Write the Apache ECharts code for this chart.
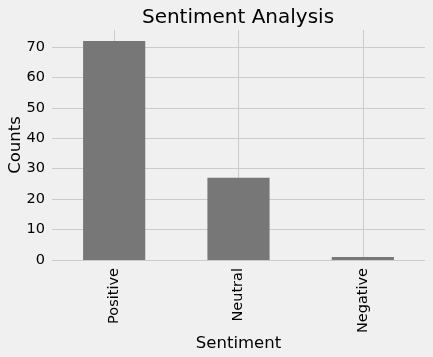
<!DOCTYPE html>
<html>
<head>
<meta charset="utf-8">
<script src="https://cdn.jsdelivr.net/npm/echarts@6/dist/echarts.min.js"></script>
<style>
html,body{margin:0;padding:0;background:#f0f0f0;}
#c{width:433px;height:357px;}
</style>
</head>
<body>
<div id="c"></div>
<script>
const categories = ['Positive', 'Neutral', 'Negative'];
const counts = [72, 27, 1];
const yMax = 75.6;
const gridSlots = ['', '', '', '', '', '', ''];

const font = 'DejaVu Sans';
const chart = echarts.init(document.getElementById('c'), null, {renderer: 'canvas'});
chart.setOption({
  backgroundColor: '#f0f0f0',
  animation: false,
  title: {
    text: 'Sentiment Analysis',
    left: 233, top: 3, textAlign: 'center',
    textStyle: {fontFamily: font, fontSize: 20, fontWeight: 'normal', color: '#000'}
  },
  grid: {left: 52, right: 8, top: 30, bottom: 97, containLabel: false, outerBoundsMode: 'none'},
  xAxis: [{
    type: 'category',
    data: categories,
    boundaryGap: true,
    axisLine: {show: false},
    axisTick: {show: false},
    splitLine: {show: false},
    axisLabel: {rotate: 90, margin: 8, fontFamily: font, fontSize: 14.5, color: '#000'},
    name: 'Sentiment',
    nameLocation: 'middle',
    nameGap: 75,
    nameMoveOverlap: false,
    nameTextStyle: {fontFamily: font, fontSize: 16.5, color: '#000'}
  }, {
    type: 'category',
    data: gridSlots,
    boundaryGap: false,
    position: 'bottom',
    axisLine: {show: false},
    axisTick: {show: false},
    axisLabel: {show: false},
    splitLine: {show: true, interval: function (i) { return i % 2 === 1; }, lineStyle: {color: '#cbcbcb', width: 1}}
  }],
  yAxis: {
    type: 'value',
    min: 0, max: yMax, interval: 10,
    axisLine: {show: false},
    axisTick: {show: false},
    axisLabel: {margin: 7, fontFamily: font, fontSize: 14.5, color: '#000', showMaxLabel: false},
    splitLine: {show: true, showMaxLine: false, lineStyle: {color: '#cbcbcb', width: 1}},
    name: 'Counts',
    nameLocation: 'middle',
    nameGap: 28,
    nameMoveOverlap: false,
    nameTextStyle: {fontFamily: font, fontSize: 16.5, color: '#000'}
  },
  series: [{
    type: 'bar',
    xAxisIndex: 0,
    data: counts,
    barWidth: '50%',
    itemStyle: {color: '#777777'},
    z: 3
  }]
});
</script>
</body>
</html>
